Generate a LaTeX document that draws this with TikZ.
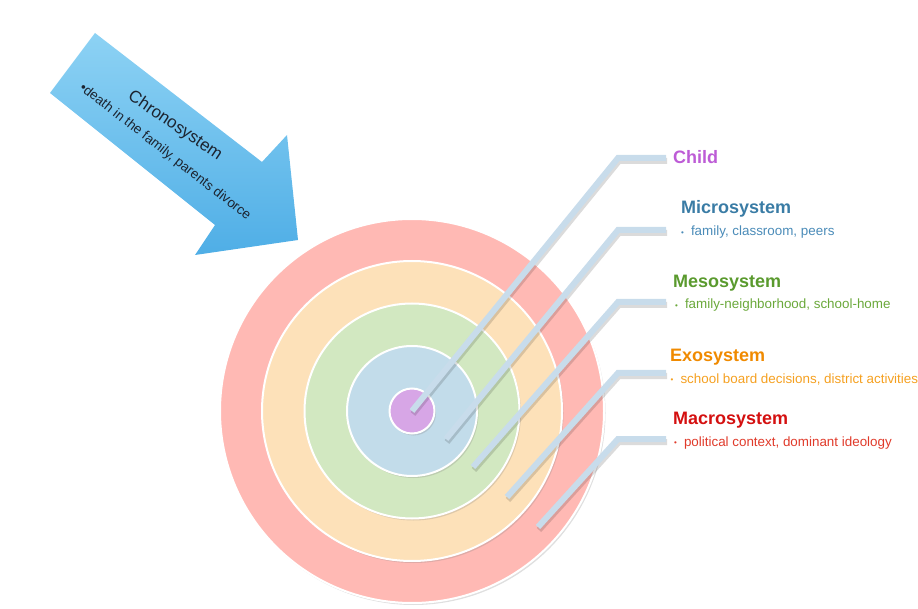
\documentclass[tikz,border=0pt]{standalone}
\usepackage{fontspec}
\setmainfont{Liberation Sans}
\usetikzlibrary{shadows}

\definecolor{macrofill}{HTML}{FFB9B4}
\definecolor{exofill}{HTML}{FDE1B9}
\definecolor{mesofill}{HTML}{D2E8C1}
\definecolor{microfill}{HTML}{C2DCEA}
\definecolor{childfill}{HTML}{D7A6E6}
\definecolor{leadblue}{HTML}{C8DCEB}
\definecolor{arrowlight}{HTML}{8DD2F4}
\definecolor{arrowdark}{HTML}{4FAEE6}
\definecolor{arrowtext}{HTML}{1C2430}
\definecolor{childcol}{HTML}{BD5CD6}
\definecolor{microcol}{HTML}{3A7CA5}
\definecolor{microitem}{HTML}{4A8BB8}
\definecolor{mesocol}{HTML}{5A9A2E}
\definecolor{mesoitem}{HTML}{6AA83A}
\definecolor{exocol}{HTML}{F08A00}
\definecolor{exoitem}{HTML}{F5A020}
\definecolor{macrocol}{HTML}{D41010}
\definecolor{macroitem}{HTML}{E03A2A}

\newcommand{\bul}{{\fontsize{8}{8}\selectfont\raisebox{0.5pt}{•}}\hspace{7pt}}

\begin{document}
\begin{tikzpicture}[x=1pt, y=-1pt,
  ring/.style={circle, draw=white, line width=2pt, inner sep=0pt,
    drop shadow={shadow xshift=1.5pt, shadow yshift=-2pt, opacity=0.25}},
  leader/.style={line width=6pt, draw=leadblue, line join=miter},
  leadshadow/.style={line width=6pt, draw=black, opacity=0.14,
    transform canvas={shift={(1pt,-3pt)}}},
  title/.style={anchor=base west, inner sep=0pt, font=\bfseries\fontsize{18}{20}\selectfont},
  item/.style={anchor=base west, inner sep=0pt, font=\fontsize{13.4}{15}\selectfont}]

\useasboundingbox (0,0) rectangle (918,609);

\shade[top color=arrowlight, bottom color=arrowdark]
  (95,33) -- (262,162) -- (287,135) -- (298,240) -- (195,255) -- (215,225) -- (50,93) -- cycle;
\node[rotate=-34, text=arrowtext, inner sep=0pt, font=\fontsize{17}{19}\selectfont] (chrono) at (175,126) {Chronosystem};
\node[rotate=-38, text=arrowtext, inner sep=0pt, font=\fontsize{13.5}{15}\selectfont] (chronoitem) at (165,152) {•death in the family, parents divorce};

\node[ring, fill=macrofill, minimum size=384pt] (macro) at (412,411) {};
\node[ring, fill=exofill, minimum size=300pt] (exo) at (412,411) {};
\node[ring, fill=mesofill, minimum size=215pt] (meso) at (412,411) {};
\node[ring, fill=microfill, minimum size=130pt] (micro) at (412,411) {};
\node[ring, fill=childfill, minimum size=45pt] (child) at (412,411) {};

\coordinate (microin) at (446,439);
\coordinate (mesoin) at (473,467);
\coordinate (exoin) at (507,497);
\coordinate (macroin) at (538,527);

\coordinate (childbend) at (618,158);
\coordinate (microbend) at (618,230);
\coordinate (mesobend) at (618,302);
\coordinate (exobend) at (618,373);
\coordinate (macrobend) at (618,439);

\coordinate (childend) at (666,158);
\coordinate (microend) at (666,230);
\coordinate (mesoend) at (666,302);
\coordinate (exoend) at (666,373);
\coordinate (macroend) at (666,439);

\draw[leadshadow] (child.center) -- (childbend) -- (childend);
\draw[leadshadow] (microin) -- (microbend) -- (microend);
\draw[leadshadow] (mesoin) -- (mesobend) -- (mesoend);
\draw[leadshadow] (exoin) -- (exobend) -- (exoend);
\draw[leadshadow] (macroin) -- (macrobend) -- (macroend);

\draw[leader] (child.center) -- (childbend) -- (childend);
\draw[leader] (microin) -- (microbend) -- (microend);
\draw[leader] (mesoin) -- (mesobend) -- (mesoend);
\draw[leader] (exoin) -- (exobend) -- (exoend);
\draw[leader] (macroin) -- (macrobend) -- (macroend);

\node[title, text=childcol] (childlabel) at (673,164) {Child};
\node[title, text=microcol] (microlabel) at (681,214) {Microsystem};
\node[item, text=microitem] (microtext) at (681,236) {\bul family, classroom, peers};
\node[title, text=mesocol] (mesolabel) at (673,288) {Mesosystem};
\node[item, text=mesoitem] (mesotext) at (675,309) {\bul family-neighborhood, school-home};
\node[title, text=exocol] (exolabel) at (670,362) {Exosystem};
\node[item, text=exoitem] (exotext) at (670.5,383) {\bul school board decisions, district activities};
\node[title, text=macrocol] (macrolabel) at (673,424) {Macrosystem};
\node[item, text=macroitem] (macrotext) at (674,446) {\bul political context, dominant ideology};

\end{tikzpicture}
\end{document}
